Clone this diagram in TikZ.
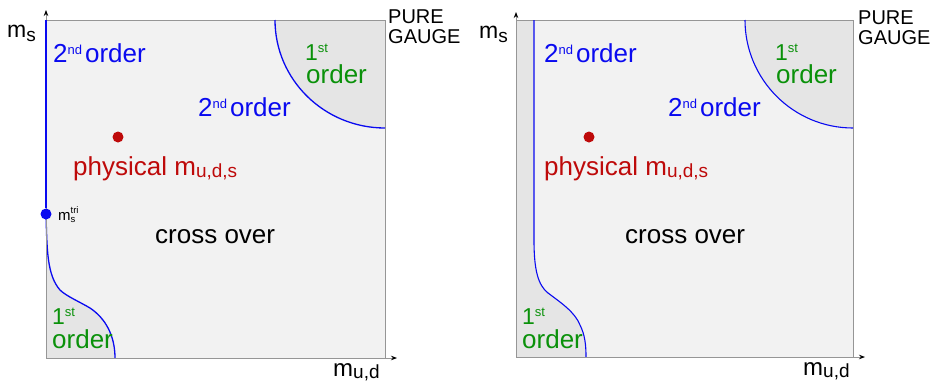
\documentclass[tikz,border=0pt]{standalone}
\usepackage{fontspec}
\setmainfont{Liberation Sans}
\usetikzlibrary{arrows.meta}
\definecolor{pblue}{RGB}{10,10,240}
\definecolor{pgreen}{RGB}{10,145,10}
\definecolor{pred}{RGB}{190,10,10}
\definecolor{bgfill}{RGB}{242,242,242}
\definecolor{firstfill}{RGB}{229,229,229}
\definecolor{boxline}{RGB}{150,150,150}
\newcommand{\supx}[1]{\raisebox{7.5bp}{\fontsize{13bp}{13bp}\selectfont #1}}
\newcommand{\subx}[2][2bp]{\raisebox{-#1}{\fontsize{19bp}{19bp}\selectfont #2}}
\begin{document}
\begin{tikzpicture}[x=1bp,y=-1bp,
  lbl/.style={anchor=base west, inner sep=0pt, font=\fontsize{26bp}{28bp}\selectfont},
  onelbl/.style={anchor=base west, inner sep=0pt, font=\fontsize{23bp}{24bp}\selectfont},
  smalllbl/.style={anchor=base west, inner sep=0pt, font=\fontsize{20bp}{22bp}\selectfont, align=left},
  axis/.style={draw=boxline, line width=0.8bp, -{Stealth[length=6bp,width=4.5bp,black]}},
  boxstyle/.style={draw=boxline, line width=0.8bp},
  transition/.style={draw=pblue, line width=1.3bp},
  dotstyle/.style={circle, inner sep=0pt, minimum size=11bp},
]
\useasboundingbox (0,0) rectangle (930,384);

% ---------------- left panel ----------------
\fill[bgfill] (46,20) rectangle (385,358);
\fill[firstfill] (275,20) .. controls (275,79.6) and (324.2,128) .. (385,128) -- (385,20) -- cycle;
\fill[firstfill] (46,214) .. controls (47,250) and (47,275) .. (60,290)
   .. controls (66,296) and (80,302) .. (90,308)
   .. controls (105,318) and (115,335) .. (115,358) -- (46,358) -- cycle;
\draw[boxstyle] (46,20) rectangle (385,358);
\draw[transition] (275,20) .. controls (275,79.6) and (324.2,128) .. (385,128);
\draw[transition] (46,214) .. controls (47,250) and (47,275) .. (60,290)
   .. controls (66,296) and (80,302) .. (90,308)
   .. controls (105,318) and (115,335) .. (115,358);
\coordinate (O1) at (46,358);
\coordinate (Y1) at (46,10);
\coordinate (X1) at (397,358);
\draw[axis] (O1) -- (Y1);
\draw[axis] (O1) -- (X1);
\node[dotstyle, fill=pblue] (tri1) at (46,214) {};
\coordinate (T1) at (46,20);
\draw[draw=pblue, line width=2.8bp] (tri1) -- (T1);
\node[dotstyle, fill=pred] (phys1) at (118,137) {};

\node[lbl, font=\fontsize{23bp}{25bp}\selectfont] (ms1) at (7,37) {m\subx[4bp]{s}};
\node[lbl, text=pblue] (so1a) at (53,62) {2\supx{nd}\hspace{3bp}order};
\node[lbl, text=pblue] (so1b) at (198,116) {2\supx{nd}\hspace{3bp}order};
\node[onelbl, text=pgreen] (fo1a) at (305,60) {1\supx{st}};
\node[lbl, text=pgreen] (fo1b) at (306,83) {order};
\node[lbl, text=pred] (pl1) at (73,175) {physical m\subx{u,d,s}};
\node[lbl] (co1) at (155,243) {cross over};
\node[lbl, font=\fontsize{15bp}{16bp}\selectfont] (mt1) at (58,220) {m\rlap{\raisebox{-2bp}{\fontsize{9.5bp}{10bp}\selectfont s}}\raisebox{7bp}{\fontsize{9.5bp}{10bp}\selectfont tri}};
\node[onelbl, text=pgreen] (fo1c) at (52,324) {1\supx{st}};
\node[lbl, text=pgreen] (fo1d) at (52,348) {order};
\node[smalllbl] (pg1a) at (388,23) {PURE};
\node[smalllbl] (pg1b) at (388,43) {GAUGE};
\node[lbl, font=\fontsize{24bp}{26bp}\selectfont] (mud1) at (333,376) {m\subx{u,d}};

% ---------------- right panel ----------------
\fill[bgfill] (516,20) rectangle (853,357);
\fill[firstfill] (745,20) .. controls (745,79.6) and (793.4,128) .. (853,128) -- (853,20) -- cycle;
\fill[firstfill] (516,20) -- (534,20) -- (534,240) .. controls (534,270) and (538,285) .. (548,293)
   .. controls (560,302) and (575,312) .. (580,325)
   .. controls (585,335) and (586,345) .. (586,357) -- (516,357) -- cycle;
\draw[boxstyle] (516,20) rectangle (853,357);
\draw[transition, line width=1.1bp] (745,20) .. controls (745,79.6) and (793.4,128) .. (853,128);
\draw[transition, line width=1.1bp] (534,20) -- (534,240) .. controls (534,270) and (538,285) .. (548,293)
   .. controls (560,302) and (575,312) .. (580,325)
   .. controls (585,335) and (586,345) .. (586,357);
\coordinate (O2) at (516,357);
\coordinate (Y2) at (516,12);
\coordinate (X2) at (865,357);
\draw[axis] (O2) -- (Y2);
\draw[axis] (O2) -- (X2);
\node[dotstyle, fill=pred] (phys2) at (589,137) {};

\node[lbl, font=\fontsize{23bp}{25bp}\selectfont] (ms2) at (479,38) {m\subx[4bp]{s}};
\node[lbl, text=pblue] (so2a) at (544,62) {2\supx{nd}\hspace{3bp}order};
\node[lbl, text=pblue] (so2b) at (668,116) {2\supx{nd}\hspace{3bp}order};
\node[onelbl, text=pgreen] (fo2a) at (775,60) {1\supx{st}};
\node[lbl, text=pgreen] (fo2b) at (776,83) {order};
\node[lbl, text=pred] (pl2) at (544,175) {physical m\subx{u,d,s}};
\node[lbl] (co2) at (625,243) {cross over};
\node[onelbl, text=pgreen] (fo2c) at (522,324) {1\supx{st}};
\node[lbl, text=pgreen] (fo2d) at (522,348) {order};
\node[smalllbl] (pg2a) at (858,24) {PURE};
\node[smalllbl] (pg2b) at (858,44) {GAUGE};
\node[lbl, font=\fontsize{24bp}{26bp}\selectfont] (mud2) at (803,375) {m\subx{u,d}};
\end{tikzpicture}
\end{document}
